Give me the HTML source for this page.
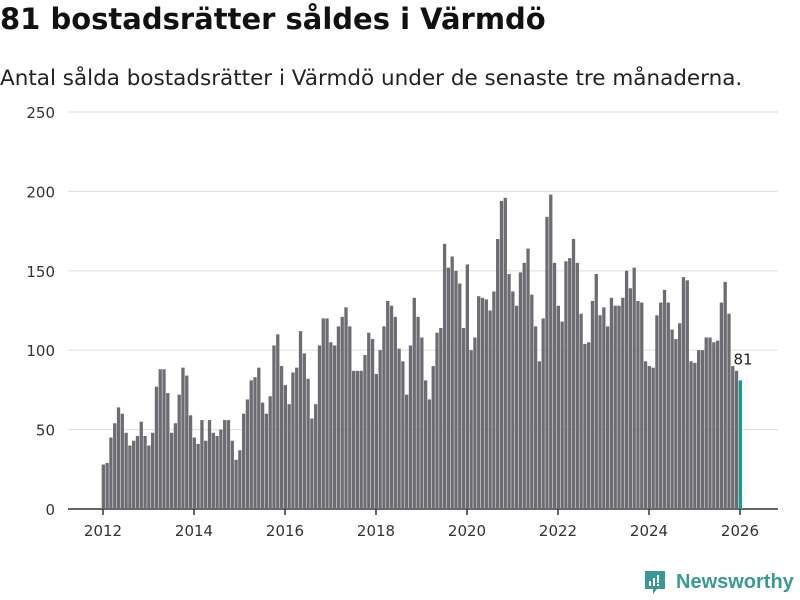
<!DOCTYPE html>
<html><head><meta charset="utf-8"><style>
body{margin:0;width:800px;height:600px;background:#fff;font-family:"DejaVu Sans","Liberation Sans",sans-serif;overflow:hidden;position:relative}
h1{position:absolute;left:0;top:2px;margin:0;font-size:29px;font-weight:bold;color:#111}
.sub{position:absolute;left:0;top:66px;font-size:21.5px;color:#222;white-space:nowrap}
.logo{position:absolute;left:643px;top:569px;display:flex;align-items:center}
.logo span{color:#3a9a92;font-size:20px;font-weight:bold;margin-left:9px;font-family:"Liberation Sans",sans-serif}
</style></head><body>
<h1>81 bostadsrätter såldes i Värmdö</h1>
<div class="sub">Antal sålda bostadsrätter i Värmdö under de senaste tre månaderna.</div>
<svg id="chart" width="800" height="560" style="position:absolute;left:0;top:0"></svg>
<div class="logo">
<svg width="24" height="26" viewBox="0 0 24 26"><path d="M2 2h20v18h-8l-4 5v-5H2z" fill="#3a9a92"/><rect x="6" y="12" width="2" height="5" fill="#fff"/><rect x="10" y="9" width="2" height="8" fill="#fff"/><rect x="14" y="6" width="2" height="8" fill="#fff"/><rect x="14" y="15" width="2" height="2" fill="#fff"/></svg>
<span>Newsworthy</span></div>
<script>
const values=[28,29,45,54,64,60,48,40,43,46,55,46,
40,48,77,88,88,73,48,54,72,89,84,59,
45,41,56,43,56,48,46,50,56,56,43,31,
37,60,69,81,83,89,67,60,71,103,110,90,
78,66,86,89,112,98,82,57,66,103,120,120,
105,103,115,121,127,115,87,87,87,97,111,107,
85,100,115,131,128,121,101,93,72,103,133,121,
108,81,69,90,111,114,167,152,159,150,142,114,
154,100,108,134,133,132,125,137,170,194,196,148,
137,128,149,155,164,135,115,93,120,184,198,155,
128,118,156,158,170,155,123,104,105,131,148,122,
127,115,133,128,128,133,150,139,152,131,130,93,
90,89,122,130,138,130,113,107,117,146,144,93,
92,100,100,108,108,105,106,130,143,123,90,87,
81];
const yTicks=[0,50,100,150,200,250];
const xTickYears=[2012,2014,2016,2018,2020,2022,2024,2026];
const startYear=2012;
const svg=document.getElementById('chart');
const NS='http://www.w3.org/2000/svg';
const y=v=>509-v*397/250;
const x=m=>103+m*(637/168);
function mk(t,a){const e=document.createElementNS(NS,t);for(const k in a)e.setAttribute(k,a[k]);svg.appendChild(e);return e;}
yTicks.forEach(t=>{
 const g=mk('line',{x1:68,x2:778,y1:y(t),y2:y(t),stroke:t?'#e2e2e2':'#333','stroke-width':t?1.2:1.5});
 
 
 const l=mk('text',{x:55,y:y(t)+6,'text-anchor':'end','font-size':15,fill:'#333'});
 l.textContent=t;
 
 
});
values.forEach((v,i)=>{
 const last=i===values.length-1;
 const r=mk('rect',{x:x(i)-1.3,y:y(v),width:3.3,height:509-y(v),fill:last?'#1a9a8e':'#6d6c72'});
 
 
});
xTickYears.forEach(yr=>{
 const px=x((yr-startYear)*12);
 const t=mk('line',{x1:px,x2:px,y1:509,y2:515,stroke:'#333','stroke-width':1.5});
 
 
 const l=mk('text',{x:px,y:536,'text-anchor':'middle','font-size':15,fill:'#333'});
 l.textContent=yr;
 
 
});
const li=values.length-1;
const lab=mk('text',{x:x(li)+3,y:y(values[li])-16,'text-anchor':'middle','font-size':15,fill:'#222',stroke:'#fff','stroke-width':3,'paint-order':'stroke'});
lab.textContent=values[li];


</script>
</body></html>
